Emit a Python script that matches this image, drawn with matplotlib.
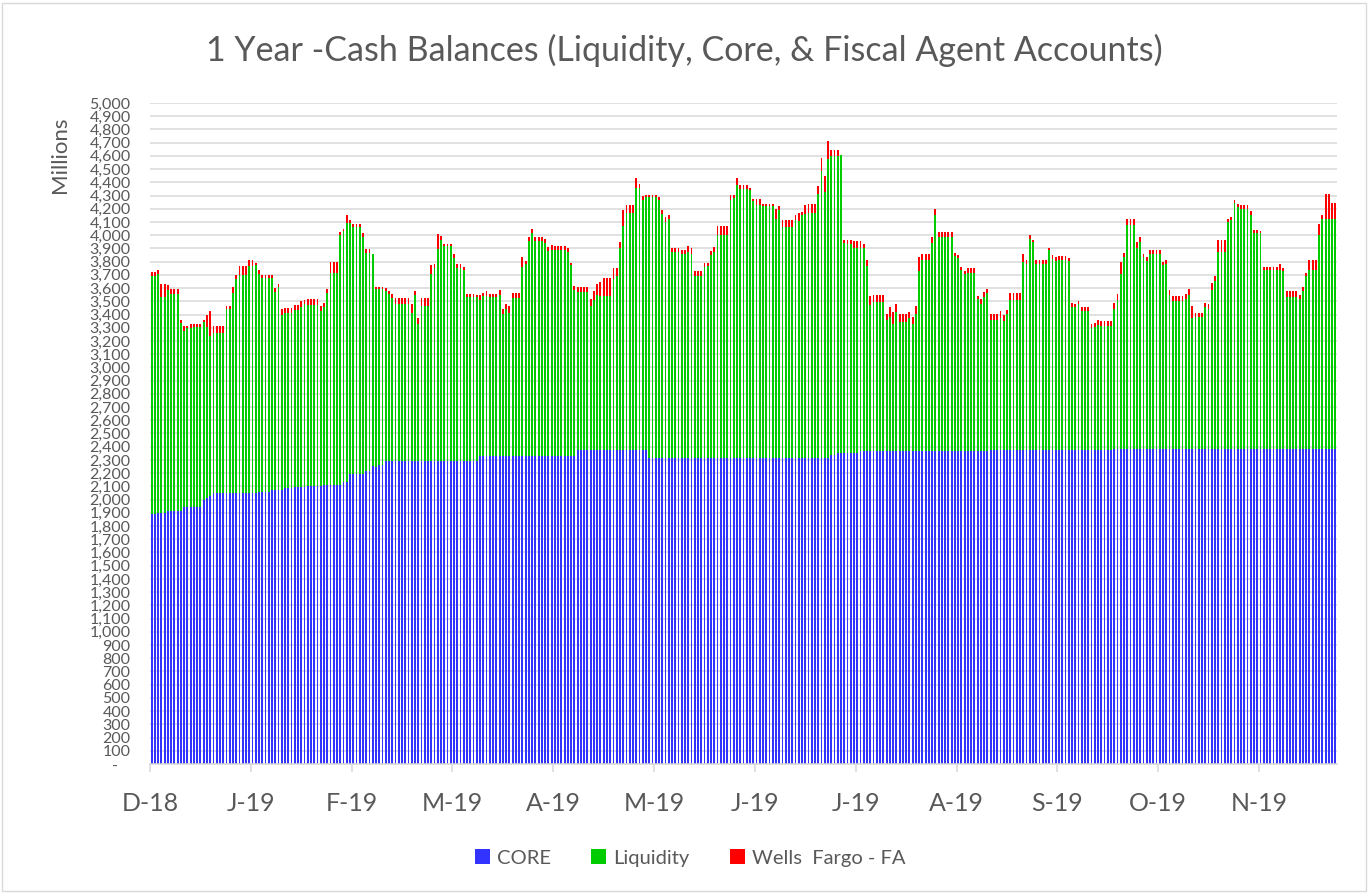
import matplotlib
matplotlib.use("Agg")
import matplotlib.pyplot as plt
from matplotlib.patches import Patch, Rectangle
import numpy as np

plt.rcParams['font.family'] = ['Lato', 'DejaVu Sans']

title = "1 Year -Cash Balances (Liquidity, Core, & Fiscal Agent Accounts)"
series_names = ["CORE", "Liquidity", "Wells  Fargo - FA"]
month_labels = ["D-18", "J-19", "F-19", "M-19", "A-19", "M-19",
                "J-19", "J-19", "A-19", "S-19", "O-19", "N-19"]

# Daily balances (millions), 1 Dec 2018 .. 30 Nov 2019
core = (
    [1890] * 2 + [1900] * 3 + [1910] * 5 + [1945] * 6 + [1995, 2010, 2025]
    + [2050] * 14 + [2060] * 4 + [2075] * 4 + [2085] * 3 + [2095] * 4
    + [2105] * 5 + [2110] * 6 + [2130] * 2 + [2195] * 5 + [2220] * 2
    + [2255, 2245, 2265, 2265] + [2290] * 29 + [2330] * 30 + [2375] * 22
    + [2315] * 56 + [2335] * 2 + [2355] * 7 + [2370] * 40 + [2375] * 38
    + [2385] * 69
)

liquidity = [
    1805, 1805,
    1810, 1630, 1630, 1675, 1645, 1645, 1645,
    1425, 1330, 1350, 1350, 1360, 1360, 1360,
    1345, 1295, 1210, 1210, 1210, 1210, 1210,
    1390, 1390, 1515, 1615, 1650, 1650, 1650,
    1715, 1715, 1725, 1645, 1615, 1615, 1615,
    1600, 1495, 1530, 1320, 1330, 1330, 1330,
    1340, 1340, 1360, 1385, 1365, 1365, 1365,
    1365, 1320, 1345, 1455, 1605, 1605, 1605,
    1890, 1900, 1960, 1895, 1865, 1865, 1865,
    1795, 1645, 1645, 1600, 1345, 1325, 1325,
    1290, 1265, 1235, 1190, 1190, 1190, 1190,
    1190, 1120, 1260, 1040, 1175, 1175, 1175,
    1415, 1465, 1605, 1670, 1625, 1625, 1625,
    1540, 1465, 1460, 1445, 1245, 1245, 1245,
    1240, 1180, 1210, 1210, 1205, 1205, 1205,
    1215, 1075, 1115, 1085, 1195, 1195, 1195,
    1430, 1450, 1625, 1685, 1625, 1625, 1625,
    1610, 1550, 1560, 1560, 1560, 1560, 1560,
    1545, 1445, 1255, 1195, 1195, 1195, 1195,
    1090, 1135, 1170, 1165, 1165, 1165, 1165,
    1295, 1320, 1530, 1695, 1790, 1790, 1790,
    1985, 1985, 1895, 1915, 1975, 1975, 1975,
    1955, 1845, 1785, 1810, 1560, 1560, 1560,
    1545, 1545, 1560, 1545, 1375, 1375, 1375,
    1445, 1450, 1535, 1560, 1685, 1685, 1685,
    1685, 1950, 1970, 2065, 2035, 2035, 2035,
    2025, 1940, 1910, 1910, 1905, 1905, 1905,
    1905, 1805, 1875, 1745, 1745, 1745, 1745,
    1800, 1790, 1835, 1845, 1855, 1855, 1855,
    1995, 2170, 2010, 2265, 2265, 2265, 2245,
    2250, 1585, 1580, 1580, 1550, 1550, 1535,
    1535, 1400, 1100, 1125, 1125, 1125, 1125,
    990, 1015, 955, 1050, 975, 975, 975,
    1000, 955, 1035, 1360, 1440, 1440, 1440,
    1570, 1780, 1620, 1620, 1620, 1620, 1620,
    1470, 1455, 1365, 1340, 1345, 1345, 1345,
    1145, 1110, 1165, 1190, 980, 980, 980,
    1000, 975, 1030, 1135, 1135, 1135, 1135,
    1425, 1410, 1600, 1575, 1410, 1410, 1410,
    1410, 1515, 1445, 1430, 1440, 1440, 1440,
    1430, 1085, 1080, 1105, 1055, 1055, 1055,
    920, 930, 945, 935, 935, 935, 935,
    1060, 1125, 1325, 1450, 1690, 1690, 1690,
    1515, 1565, 1450, 1420, 1470, 1470, 1470,
    1470, 1390, 1395, 1160, 1120, 1120, 1120,
    1120, 1135, 1160, 985, 1000, 1000, 1000,
    1070, 1060, 1200, 1270, 1490, 1490, 1490,
    1715, 1730, 1855, 1825, 1810, 1810, 1810,
    1765, 1630, 1635, 1630, 1350, 1350, 1350,
    1350, 1350, 1355, 1345, 1150, 1150, 1150,
    1150, 1130, 1190, 1305, 1355, 1355, 1355,
    1615, 1740, 1740, 1740, 1740, 1740,
]

wells_fargo = [
    30, 30,
    30, 100, 100, 35, 35, 35, 35,
    25, 35, 20, 30, 25, 25, 25,
    20, 95, 190, 50, 50, 50, 50,
    25, 25, 40, 35, 65, 65, 65,
    45, 45, 15, 35, 25, 25, 25,
    25, 30, 25, 45, 35, 35, 35,
    40, 40, 50, 30, 45, 45, 45,
    45, 40, 35, 25, 80, 80, 80,
    25, 15, 60, 25, 25, 25, 25,
    25, 30, 30, 5, 15, 15, 15,
    20, 25, 30, 45, 45, 45, 45,
    45, 70, 30, 45, 60, 60, 60,
    70, 30, 115, 35, 20, 20, 20,
    25, 25, 30, 25, 20, 20, 20,
    20, 35, 25, 35, 20, 20, 20,
    40, 35, 35, 50, 40, 40, 40,
    75, 25, 35, 35, 30, 30, 30,
    35, 30, 35, 25, 25, 25, 25,
    25, 15, 30, 35, 35, 35, 35,
    55, 70, 85, 105, 140, 140, 140,
    80, 60, 45, 120, 65, 65, 65,
    70, 30, 30, 15, 15, 15, 15,
    20, 30, 35, 30, 25, 25, 25,
    30, 30, 40, 40, 40, 40, 40,
    30, 25, 30, 35, 70, 70, 70,
    70, 40, 20, 50, 30, 30, 30,
    20, 20, 50, 50, 15, 15, 15,
    15, 75, 30, 55, 55, 55, 55,
    35, 60, 25, 65, 65, 65, 65,
    60, 100, 120, 130, 45, 45, 45,
    5, 25, 30, 30, 50, 50, 50,
    30, 40, 70, 50, 50, 50, 50,
    45, 75, 95, 60, 60, 60, 60,
    50, 60, 60, 105, 50, 50, 50,
    50, 50, 35, 35, 35, 35, 35,
    25, 25, 25, 20, 35, 35, 35,
    25, 35, 35, 30, 50, 50, 50,
    50, 45, 30, 55, 55, 55, 55,
    60, 30, 30, 15, 25, 25, 25,
    25, 10, 30, 30, 25, 25, 25,
    25, 30, 25, 20, 25, 25, 25,
    30, 30, 40, 40, 40, 40, 40,
    45, 45, 90, 30, 45, 45, 45,
    50, 35, 20, 30, 30, 30, 30,
    30, 25, 30, 40, 35, 35, 35,
    35, 35, 45, 95, 30, 30, 30,
    30, 35, 55, 35, 85, 85, 85,
    25, 25, 30, 25, 35, 35, 35,
    30, 25, 20, 20, 25, 25, 25,
    25, 25, 40, 20, 40, 40, 40,
    40, 30, 35, 25, 75, 75, 75,
    85, 25, 190, 190, 115, 115,
]

W, H = 1369, 893
fig = plt.figure(figsize=(W / 100, H / 100), dpi=100)
fig.patch.set_facecolor("white")
fig.add_artist(Rectangle((2 / W, 2 / H), 1 - 5 / W, 1 - 5 / H, transform=fig.transFigure,
                         fill=False, edgecolor="#D9D9D9", linewidth=1.0))

ax = fig.add_axes([150 / W, 1 - 764 / H, (1337 - 150) / W, (764 - 103) / H])

n = len(core)
x = np.arange(n)
core_a = np.array(core)
liq_a = np.array(liquidity)
wf_a = np.array(wells_fargo)

bw = 0.56
ax.bar(x, core_a, width=bw, color="#3333FF", linewidth=0)
ax.bar(x, liq_a, width=bw, bottom=core_a, color="#00CC00", linewidth=0)
ax.bar(x, wf_a, width=bw, bottom=core_a + liq_a, color="#FF0000", linewidth=0)

ax.set_xlim(-0.5, n - 0.5)
ax.set_ylim(0, 5000)

yt = np.arange(0, 5001, 100)
ax.set_yticks(yt)
ax.set_yticklabels(["-   " if v == 0 else f"{v:,}" for v in yt])
ax.yaxis.grid(True, color="#D9D9D9", linewidth=1.1)
ax.set_axisbelow(True)

tick_pos = [-0.5 + 31 * k for k in range(len(month_labels))]
ax.set_xticks(tick_pos)
ax.set_xticklabels(month_labels)

for s in ["top", "right", "left"]:
    ax.spines[s].set_visible(False)
ax.spines["bottom"].set_color("#D9D9D9")
ax.spines["bottom"].set_linewidth(1.1)

ax.tick_params(axis="y", length=0, pad=14, labelsize=11.5, labelcolor="#595959")
ax.tick_params(axis="x", length=6, width=1.1, color="#D9D9D9", pad=14,
               labelsize=18, labelcolor="#595959")

fig.text(60 / W, 1 - 155 / H, "Millions", rotation=90, ha="center", va="center",
         fontsize=16, color="#595959")
fig.text(0.5, 1 - 50 / H, title, ha="center", va="center", fontsize=24.5, color="#595959")

handles = [Patch(facecolor="#3333FF"), Patch(facecolor="#00CC00"), Patch(facecolor="#FF0000")]
fig.legend(handles, series_names, loc="center", bbox_to_anchor=(690 / W, 1 - 858 / H),
           ncol=3, frameon=False, fontsize=14.5, labelcolor="#595959",
           handlelength=0.75, handleheight=0.75, handletextpad=0.35, columnspacing=2.0)

fig.savefig("out.png", dpi=100, facecolor="white")
